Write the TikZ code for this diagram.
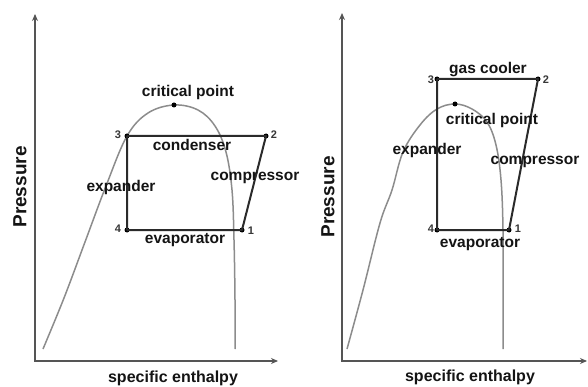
\documentclass[tikz,border=0pt]{standalone}
\usepackage{fontspec}
\setmainfont{Liberation Sans}
\usetikzlibrary{arrows.meta}
\definecolor{axisgray}{HTML}{555555}
\definecolor{curvegray}{HTML}{8C8C8C}
\definecolor{linedark}{HTML}{2A2A2A}
\definecolor{txt}{HTML}{141414}
\tikzset{
  axis/.style={draw=axisgray, line width=1.8pt, {Stealth[length=7pt,width=6pt]}-{Stealth[length=7pt,width=6pt]}},
  satcurve/.style={draw=curvegray, line width=1.5pt},
  cycleline/.style={draw=linedark, line width=2pt, line join=round},
  pt/.style={circle, fill=black, inner sep=0pt, minimum size=5pt},
  lbl/.style={text=txt, inner sep=0pt, font=\fontsize{15.5}{16}\selectfont\bfseries},
  num/.style={text=txt!85, inner sep=0pt, font=\fontsize{11}{11}\selectfont\bfseries},
  axlbl/.style={text=txt, inner sep=0pt, font=\fontsize{16}{17}\selectfont\bfseries},
  plbl/.style={text=txt, inner sep=0pt, rotate=90, font=\fontsize{19}{20}\selectfont\bfseries},
}
\begin{document}
\begin{tikzpicture}[x=1pt, y=-1pt]
\useasboundingbox[fill=white] (0,0) rectangle (588,387);

% ---------------- left panel ----------------
\coordinate (LO) at (35,361);
\coordinate (LY) at (35,14);
\coordinate (LX) at (278,361);
\draw[axis] (LY) -- (LO) -- (LX);

\draw[satcurve] plot[smooth, tension=0.6] coordinates
  {(43,349) (64,298) (85,242) (106,186) (127,136) (148,113) (174,105) (198,110) (215,126) (226,152) (232,190) (234,240) (235,300) (235,349)};

\node[pt] (LC) at (174,105) {};
\node[pt] (L3) at (127,136) {};
\node[pt] (L2) at (266,136) {};
\node[pt] (L1) at (242,230) {};
\node[pt] (L4) at (127,230) {};
\draw[cycleline] (L3.center) -- (L2.center) -- (L1.center) -- (L4.center) -- cycle;

\node[num] (n3l) at (118,135) {3};
\node[num] (n2l) at (274,135) {2};
\node[num] (n4l) at (118,229) {4};
\node[num] (n1l) at (251,231) {1};

\node[lbl] (cpl) at (188,92) {critical point};
\node[lbl] (cond) at (192,145) {condenser};
\node[lbl] (compl) at (255,178) {compressor};
\node[lbl] (expl) at (121,187) {expander};
\node[lbl] (evapl) at (185,240) {evaporator};

\node[plbl] (pl) at (20,187) {Pressure};
\node[axlbl] (hl) at (173,378) {specific enthalpy};

% ---------------- right panel ----------------
\coordinate (RO) at (342,361);
\coordinate (RY) at (342,13);
\coordinate (RX) at (587,361);
\draw[axis] (RY) -- (RO) -- (RX);

\draw[satcurve] plot[smooth, tension=0.6] coordinates
  {(347,349) (363,290) (380,223) (392,190) (403,152) (420,125) (437,109) (455,104) (472,109) (487,122) (496,145) (501,180) (503,230) (503,300) (503,349)};

\node[pt] (RC) at (455,104) {};
\node[pt] (R3) at (437,79) {};
\node[pt] (R2) at (538,79) {};
\node[pt] (R1) at (509,230) {};
\node[pt] (R4) at (437,230) {};
\draw[cycleline] (R3.center) -- (R2.center) -- (R1.center) -- (R4.center) -- cycle;

\node[num] (n3r) at (431,80) {3};
\node[num] (n2r) at (546,80) {2};
\node[num] (n4r) at (431,229) {4};
\node[num] (n1r) at (518,229) {1};

\node[lbl] (gc) at (488,70) {gas cooler};
\node[lbl] (cpr) at (492,120) {critical point};
\node[lbl] (expr) at (427,150) {expander};
\node[lbl] (compr) at (535,162) {compressor};
\node[lbl] (evapr) at (480,244) {evaporator};

\node[plbl] (pr) at (328,197) {Pressure};
\node[axlbl] (hr) at (470,377) {specific enthalpy};
\end{tikzpicture}
\end{document}
